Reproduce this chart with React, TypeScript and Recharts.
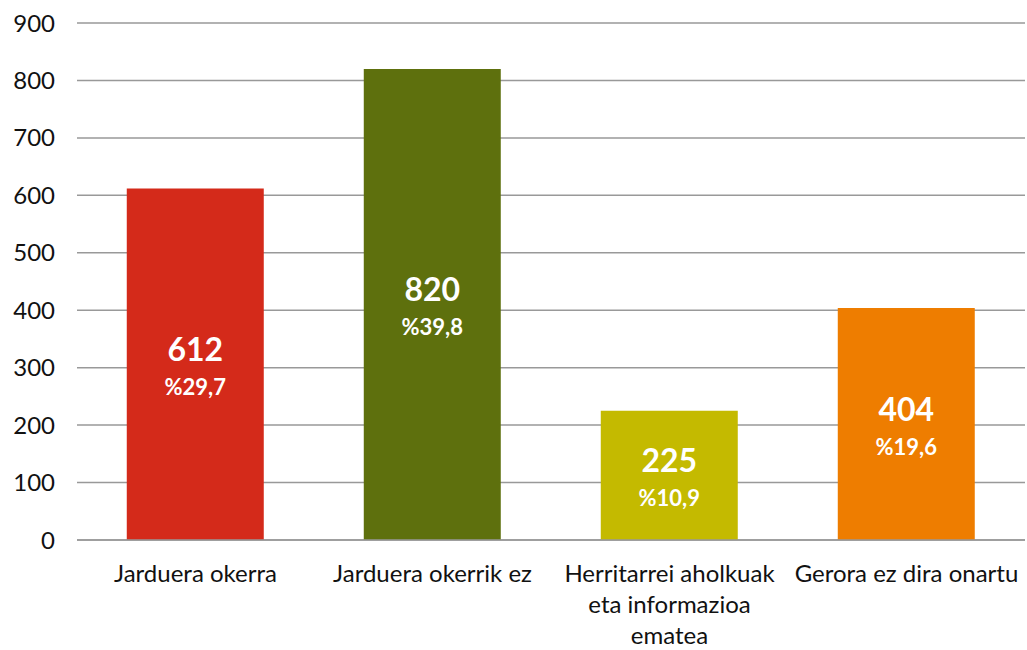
import React from "react";
import { BarChart, Bar, XAxis, YAxis, CartesianGrid, Cell, LabelList } from "recharts";

const categories = [
  "Jarduera okerra",
  "Jarduera okerrik ez",
  "Herritarrei aholkuak eta informazioa ematea",
  "Gerora ez dira onartu",
];
const values = [612, 820, 225, 404];
const shares = ["%29,7", "%39,8", "%10,9", "%19,6"];
const colors = ["#D42A1A", "#5E700D", "#C4BA00", "#EE7D00"];
const yTicks = [0, 100, 200, 300, 400, 500, 600, 700, 800, 900];

const FONT = "Lato, 'Open Sans', sans-serif";

const data = categories.map((name, i) => ({ name, value: values[i], share: shares[i] }));

// wrap words to a max pixel width, measured with canvas
let ctx: CanvasRenderingContext2D | null = null;
function wrap(text: string, maxW: number, font: string): string[] {
  if (!ctx) ctx = document.createElement("canvas").getContext("2d");
  if (!ctx) return [text];
  ctx.font = font;
  const lines: string[] = [];
  let cur = "";
  for (const w of text.split(" ")) {
    const next = cur ? cur + " " + w : w;
    if (cur && ctx.measureText(next).width > maxW) {
      lines.push(cur);
      cur = w;
    } else cur = next;
  }
  if (cur) lines.push(cur);
  return lines;
}

function CategoryTick(props: any) {
  const { x, y, payload } = props;
  const lines = wrap(String(payload.value), 236, "24px Lato");
  return (
    <text x={x} y={y + 34} textAnchor="middle" fontFamily={FONT} fontSize={24} fill="#111">
      {lines.map((l, i) => (
        <tspan key={i} x={x} dy={i === 0 ? 0 : 31}>{l}</tspan>
      ))}
    </text>
  );
}

function BarLabel(props: any) {
  const { x, y, width, height, index } = props;
  const cx = x + width / 2;
  const cy = y + height / 2;
  return (
    <g fontFamily={FONT} fontWeight={700} fill="#fff" textAnchor="middle">
      <text x={cx} y={cy - 3} fontSize={32} fill="#fff">{values[index]}</text>
      <text x={cx} y={cy + 31} fontSize={22} fill="#fff">{shares[index]}</text>
    </g>
  );
}

export default function App() {
  return (
    <div style={{ position: "absolute", left: 0, top: 0, width: 1027, height: 650, background: "#fff" }}>
      <BarChart
        width={1027}
        height={650}
        data={data}
        margin={{ top: 23, right: 2, left: 0, bottom: 0 }}
        barCategoryGap="21%"
      >
        <CartesianGrid vertical={false} stroke="#999" strokeWidth={1.5} />
        <XAxis
          dataKey="name"
          interval={0}
          tickLine={false}
          axisLine={{ stroke: "#999", strokeWidth: 1.5 }}
          height={110}
          tick={<CategoryTick />}
        />
        <YAxis
          domain={[0, 900]}
          ticks={yTicks}
          width={77}
          tickLine={false}
          axisLine={false}
          tickSize={0}
          tickMargin={22}
          tick={{ fontFamily: FONT, fontSize: 24, fill: "#111" }}
        />
        <Bar dataKey="value" isAnimationActive={false}>
          {data.map((d, i) => (
            <Cell key={d.name} fill={colors[i]} />
          ))}
          <LabelList dataKey="value" content={<BarLabel />} />
        </Bar>
      </BarChart>
    </div>
  );
}
